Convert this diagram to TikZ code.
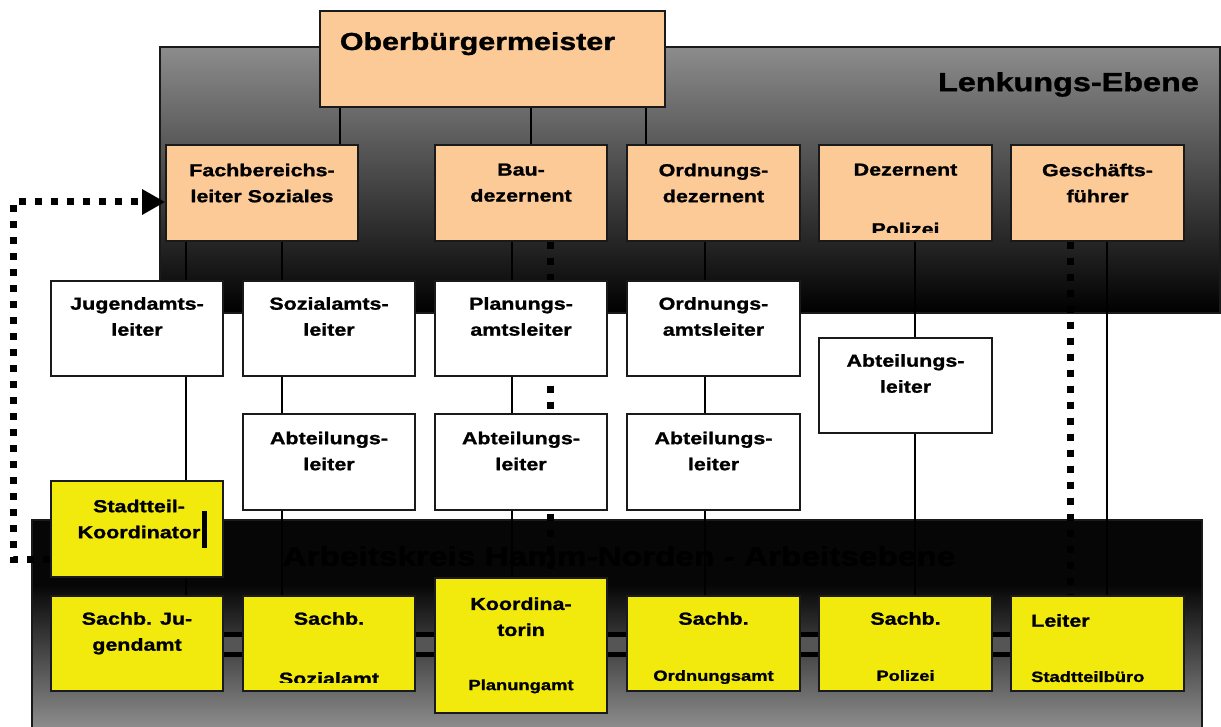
\documentclass[tikz,border=0pt]{standalone}
\usepackage{fontspec}
\setmainfont{Liberation Sans}[FakeStretch=1.24,BoldFeatures={FakeBold=1.3}]
\usetikzlibrary{arrows.meta}
\definecolor{peach}{HTML}{FCCA96}
\definecolor{yel}{HTML}{F2EA0D}
\definecolor{edge}{HTML}{1A1A1A}
\definecolor{panelgray}{HTML}{8C8C8C}
\definecolor{bandgray}{HTML}{555555}
\definecolor{nearblack}{HTML}{060606}
\definecolor{aktext}{HTML}{000000}
\begin{document}
\begin{tikzpicture}[x=1pt,y=-1pt,
  bx/.style={draw=edge,line width=1.6pt,inner sep=0pt,minimum width=172.5pt,minimum height=95.5pt},
  peachbox/.style={bx,fill=peach},
  whitebox/.style={bx,fill=white},
  yelbox/.style={bx,fill=yel},
  txt/.style={font=\fontsize{17.3}{26}\selectfont\bfseries,align=center,inner sep=0pt,anchor=north},
  smalltxt/.style={txt,font=\fontsize{14.8}{18}\selectfont\bfseries},
  conn/.style={draw=black,line width=1.4pt},
  sqdots/.style={draw=black,line width=7pt,dash pattern=on 7pt off 9pt,line cap=butt},
  panelline/.style={draw=edge,line width=1.5pt}]
\useasboundingbox (0,0) rectangle (1221,727);

% panels
\shade[top color=panelgray,middle color={black!88},bottom color=black] (160,47) rectangle (1220,313);
\draw[panelline] (160,47) rectangle (1220,313);
\fill[nearblack] (32,520) rectangle (1202,585);
\shade[top color=nearblack,bottom color=panelgray] (32,584.5) rectangle (1202,727);
\draw[panelline] (32,727) -- (32,520) -- (1202,520) -- (1202,727);

\node[font=\fontsize{26.9}{30}\selectfont\bfseries,text=aktext,inner sep=0pt,anchor=north] (tAK) at (619,546) {Arbeitskreis Hamm-Norden - Arbeitsebene};
\node[font=\fontsize{26.1}{30}\selectfont\bfseries,inner sep=0pt,anchor=north east] (tLE) at (1199,72) {Lenkungs-Ebene};

% column coordinates
\coordinate (x186) at (186,0);
\coordinate (x282) at (282,0);
\coordinate (x340) at (340,0);
\coordinate (x512) at (512,0);
\coordinate (x531) at (531,0);
\coordinate (x550) at (550,0);
\coordinate (x646) at (646,0);
\coordinate (x705) at (705,0);
\coordinate (x915) at (915,0);
\coordinate (x1070) at (1070,0);
\coordinate (x1107) at (1107,0);
\coordinate (yb1) at (0,634.5);
\coordinate (yb2) at (0,654);

% box anchors
\path
  (492.5,59) node[bx,minimum width=345pt,minimum height=96pt,draw=none] (ob) {}
  (262,193) node[bx,minimum width=192pt,draw=none] (fb) {}
  (521,193) node[bx,draw=none] (bau) {}
  (713.5,193) node[bx,draw=none] (ord) {}
  (905.5,193) node[bx,draw=none] (dez) {}
  (1097.5,193) node[bx,draw=none] (gf) {}
  (137,328.5) node[bx,draw=none] (jug) {}
  (329,328.5) node[bx,draw=none] (soz) {}
  (521,328.5) node[bx,draw=none] (plan) {}
  (713.5,328.5) node[bx,draw=none] (orda) {}
  (905.5,385.5) node[bx,draw=none] (abtp) {}
  (329,462) node[bx,draw=none] (abt1) {}
  (521,462) node[bx,draw=none] (abt2) {}
  (713.5,462) node[bx,draw=none] (abt3) {}
  (137,529) node[bx,draw=none] (stk) {}
  (137,643.5) node[bx,draw=none] (sbj) {}
  (329,643.5) node[bx,draw=none] (sbs) {}
  (521,645.5) node[bx,minimum height=135pt,draw=none] (koord) {}
  (713.5,643.5) node[bx,draw=none] (sbo) {}
  (905.5,643.5) node[bx,draw=none] (sbp) {}
  (1097.5,643.5) node[bx,draw=none] (lei) {};

% connectors
\draw[conn] (x340 |- ob.south) -- (x340 |- fb.north);
\draw[conn] (x531 |- ob.south) -- (x531 |- bau.north);
\draw[conn] (x646 |- ob.south) -- (x646 |- ord.north);
\draw[conn] (x186 |- fb.south) -- (x186 |- sbj.north);
\draw[conn] (x282 |- fb.south) -- (x282 |- sbs.north);
\draw[conn] (x512 |- bau.south) -- (x512 |- koord.north);
\draw[conn] (x705 |- ord.south) -- (x705 |- sbo.north);
\draw[conn] (x915 |- dez.south) -- (x915 |- sbp.north);
\draw[conn] (x1107 |- gf.south) -- (x1107 |- lei.north);
\draw[sqdots] (x550 |- bau.south) -- (x550 |- koord.north);
\draw[sqdots] (x1070 |- gf.south) -- (x1070 |- lei.north);

% band between bottom boxes
\fill[bandgray] (sbj.east |- yb1) rectangle (lei.west |- yb2);
\draw[line width=5pt] (sbj.east |- yb1) -- (lei.west |- yb1);
\draw[line width=5pt] (sbj.east |- yb2) -- (lei.west |- yb2);

% visible boxes
\path
  (ob.center) node[peachbox,minimum width=345pt,minimum height=96pt] (obB) {}
  (fb.center) node[peachbox,minimum width=192pt] (fbB) {}
  (bau.center) node[peachbox] (bauB) {}
  (ord.center) node[peachbox] (ordB) {}
  (dez.center) node[peachbox] (dezB) {}
  (gf.center) node[peachbox] (gfB) {}
  (jug.center) node[whitebox] (jugB) {}
  (soz.center) node[whitebox] (sozB) {}
  (plan.center) node[whitebox] (planB) {}
  (orda.center) node[whitebox] (ordaB) {}
  (abtp.center) node[whitebox] (abtpB) {}
  (abt1.center) node[whitebox] (abt1B) {}
  (abt2.center) node[whitebox] (abt2B) {}
  (abt3.center) node[whitebox] (abt3B) {}
  (stk.center) node[yelbox] (stkB) {}
  (sbj.center) node[yelbox] (sbjB) {}
  (sbs.center) node[yelbox] (sbsB) {}
  (koord.center) node[yelbox,minimum height=135pt] (koordB) {}
  (sbo.center) node[yelbox] (sboB) {}
  (sbp.center) node[yelbox] (sbpB) {}
  (lei.center) node[yelbox] (leiB) {};

% texts
\node[font=\fontsize{24.5}{28}\selectfont\bfseries,inner sep=0pt,anchor=north] (tOB) at (477.5,32) {Oberbürgermeister};
\node[txt] (tFB) at ([yshift=-19pt]fb.north) {Fachbereichs-\\leiter Soziales};
\node[txt] (tBau) at ([yshift=-19pt]bau.north) {Bau-\\dezernent};
\node[txt] (tOrd) at ([yshift=-19pt]ord.north) {Ordnungs-\\dezernent};
\node[txt] (tDez) at ([yshift=-19pt]dez.north) {Dezernent};
\begin{scope}
  \clip (dez.north west) rectangle ([yshift=9.5pt]dez.south east);
  \node[txt] (tDez2) at ([yshift=-78pt]dez.north) {Polizei};
\end{scope}
\node[txt] (tGF) at ([yshift=-19pt]gf.north) {Geschäfts-\\führer};
\node[txt] (tJug) at ([yshift=-17pt]jug.north) {Jugendamts-\\leiter};
\node[txt] (tSoz) at ([yshift=-17pt]soz.north) {Sozialamts-\\leiter};
\node[txt] (tPlan) at ([yshift=-17pt]plan.north) {Planungs-\\amtsleiter};
\node[txt] (tOrda) at ([yshift=-17pt]orda.north) {Ordnungs-\\amtsleiter};
\node[txt] (tAbtp) at ([yshift=-17pt]abtp.north) {Abteilungs-\\leiter};
\node[txt] (tAbt1) at ([yshift=-18pt]abt1.north) {Abteilungs-\\leiter};
\node[txt] (tAbt2) at ([yshift=-18pt]abt2.north) {Abteilungs-\\leiter};
\node[txt] (tAbt3) at ([yshift=-18pt]abt3.north) {Abteilungs-\\leiter};
\node[txt] (tStk) at ([xshift=2pt,yshift=-19pt]stk.north) {Stadtteil-\\Koordinator};
\fill[black] (202,511) rectangle (207,548);
\node[txt] (tSbj) at ([yshift=-17pt]sbj.north) {Sachb. Ju-\\gendamt};
\node[txt] (tSbs) at ([yshift=-17pt]sbs.north) {Sachb.};
\begin{scope}
  \clip (sbs.north west) rectangle ([yshift=9.5pt]sbs.south east);
  \node[txt] (tSbs2) at ([yshift=-77pt]sbs.north) {Sozialamt};
\end{scope}
\node[txt] (tKo) at ([yshift=-20pt]koord.north) {Koordina-\\torin};
\node[smalltxt] (tKo2) at ([yshift=-102pt]koord.north) {Planungamt};
\node[txt] (tSbo) at ([yshift=-17pt]sbo.north) {Sachb.};
\begin{scope}
  \clip (sbo.north west) rectangle ([yshift=9pt]sbo.south east);
  \node[smalltxt] (tSbo2) at ([yshift=-75pt]sbo.north) {Ordnungsamt};
\end{scope}
\node[txt] (tSbp) at ([yshift=-17pt]sbp.north) {Sachb.};
\node[smalltxt] (tSbp2) at ([yshift=-75pt]sbp.north) {Polizei};
\node[txt,anchor=north west] (tLei) at (1031,614) {Leiter};
\node[smalltxt,anchor=north west] (tLei2) at (1031,671) {Stadtteilbüro};

% dotted arrow from Stadtteil-Koordinator to Fachbereichsleiter
\coordinate (d1) at (13,559);
\coordinate (d2) at (13,202);
\draw[sqdots,-{Triangle[length=23pt,width=24pt]}] (stk.west |- d1) -- (d1) -- (d2) -- (fb.west |- d2);
\end{tikzpicture}
\end{document}
